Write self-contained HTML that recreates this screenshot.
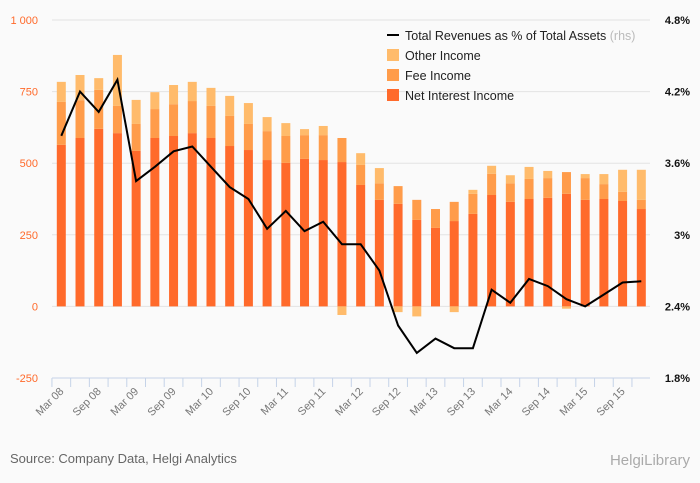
<!DOCTYPE html>
<html><head><meta charset="utf-8"><style>
html,body{margin:0;padding:0;background:#fafafa;}
svg{display:block;font-family:"Liberation Sans",sans-serif;}
</style></head><body>
<svg id="c" width="700" height="483">
<rect x="0" y="0" width="700" height="483" fill="#fafafa"/>
<g id="grid"></g>
<g id="bars"></g>
<g id="axes"></g>
<g id="line"></g>
<g>
<g><line x1="387" x2="399" y1="35" y2="35" stroke="#000" stroke-width="2"/><text x="405" y="40" font-size="12.5" fill="#222">Total Revenues as % of Total Assets <tspan fill="#bbb">(rhs)</tspan></text></g>
<g><rect x="387" y="49" width="12" height="12" fill="#ffbb6b"/><text x="405" y="60" font-size="12.5" fill="#222">Other Income</text></g>
<g><rect x="387" y="69" width="12" height="12" fill="#ff9c4a"/><text x="405" y="80" font-size="12.5" fill="#222">Fee Income</text></g>
<g><rect x="387" y="89" width="12" height="12" fill="#ff6a2b"/><text x="405" y="100" font-size="12.5" fill="#222">Net Interest Income</text></g>
</g>
<text x="10" y="463" font-size="13" fill="#666">Source: Company Data, Helgi Analytics</text>
<text x="690" y="465" font-size="15" fill="#aaa" text-anchor="end">HelgiLibrary</text>
</svg>
<script>
const labels=["Mar 08","Sep 08","Mar 09","Sep 09","Mar 10","Sep 10","Mar 11","Sep 11","Mar 12","Sep 12","Mar 13","Sep 13","Mar 14","Sep 14","Mar 15","Sep 15"];
const netInterest=[564,588,620,605,543,588,595,605,588,560,546,511,501,515,511,504,424,372,358,302,274,298,323,389,365,375,379,393,372,375,368,340];
const feeIncome=[150,132,136,95,94,101,111,112,112,105,91,101,94,83,87,84,70,58,62,70,66,67,70,74,65,70,69,76,76,52,32,32];
const otherIncome=[70,88,41,178,84,59,67,67,63,70,73,49,45,21,32,-30,41,53,-20,-35,0,-20,14,28,28,42,25,-8,14,35,77,105];
const revenuePct=[3.83,4.20,4.03,4.30,3.45,3.57,3.70,3.74,3.57,3.40,3.30,3.05,3.20,3.03,3.11,2.92,2.92,2.70,2.24,2.01,2.13,2.05,2.05,2.54,2.43,2.63,2.57,2.46,2.40,2.50,2.60,2.61];
const leftTicks=[-250,0,250,500,750,1000];
const leftTickLabels=["-250","0","250","500","750","1 000"];
const rightTicks=[1.8,2.4,3,3.6,4.2,4.8];
const rightTickLabels=["1.8%","2.4%","3%","3.6%","4.2%","4.8%"];

const NS="http://www.w3.org/2000/svg";
const X0=61.3,DX=18.71,BW=9,PL=52,PR=650,PT=20,PB=378;
const yL=v=>PB-(v+250)/1250*(PB-PT);
const yR=v=>PB-(v-1.8)/3*(PB-PT);
const xB=i=>X0+i*DX;
function mk(tag,attrs,parent){const e=document.createElementNS(NS,tag);for(const k in attrs)e.setAttribute(k,attrs[k]);parent.appendChild(e);return e;}
const grid=document.getElementById('grid'),bars=document.getElementById('bars'),axes=document.getElementById('axes'),line=document.getElementById('line');
leftTicks.forEach((t,i)=>{
  if(t!==-250){const g=mk('line',{x1:PL,x2:PR,y1:yL(t),y2:yL(t),stroke:'#e3e3e3','stroke-width':1},grid);
  
  }
  const tx=mk('text',{x:38,y:yL(t)+4,'font-size':11,fill:'#ff6a2b','text-anchor':'end'},axes);
  tx.textContent=leftTickLabels[i];
  
  
});
rightTicks.forEach((t,i)=>{
  const tx=mk('text',{x:690,y:yR(t)+4,'font-size':11,fill:'#111','text-anchor':'end','font-weight':'bold'},axes);
  tx.textContent=rightTickLabels[i];
  
  
});
const ax=mk('line',{x1:PL,x2:PR,y1:PB,y2:PB,stroke:'#c5d3e8','stroke-width':1},axes);


netInterest.forEach((n,i)=>{
  const x=xB(i)-BW/2;
  const tk=mk('line',{x1:xB(i)-DX/2,x2:xB(i)-DX/2,y1:PB,y2:PB+9,stroke:'#c5d3e8'},axes);
  
  
  const segs=[[n,'#ff6a2b','bar-net-interest'],[feeIncome[i],'#ff9c4a','bar-fee-income'],[otherIncome[i],'#ffbb6b','bar-other-income']];
  let pos=0,neg=0;
  segs.forEach(([v,c,nm])=>{
    let y0,y1;
    if(v>=0){y0=pos;y1=pos+v;pos=y1;}else{y0=neg;y1=neg+v;neg=y1;}
    const top=yL(Math.max(y0,y1)),bot=yL(Math.min(y0,y1));
    const r=mk('rect',{x:x,y:top,width:BW,height:Math.max(0,bot-top),fill:c},bars);
    
    
  });
});
labels.forEach((l,k)=>{
  const cx=xB(k*2)+3,cy=PB+14;
  const tx=mk('text',{x:cx,y:cy,'font-size':11,fill:'#777','text-anchor':'end',transform:`rotate(-45 ${cx} ${cy})`},axes);
  tx.textContent=l;
  
  
});
const pts=revenuePct.map((v,i)=>xB(i).toFixed(1)+','+yR(v).toFixed(1)).join(' ');
const pl=mk('polyline',{points:pts,fill:'none',stroke:'#000','stroke-width':2,'stroke-linejoin':'miter'},line);


</script>
</body></html>
